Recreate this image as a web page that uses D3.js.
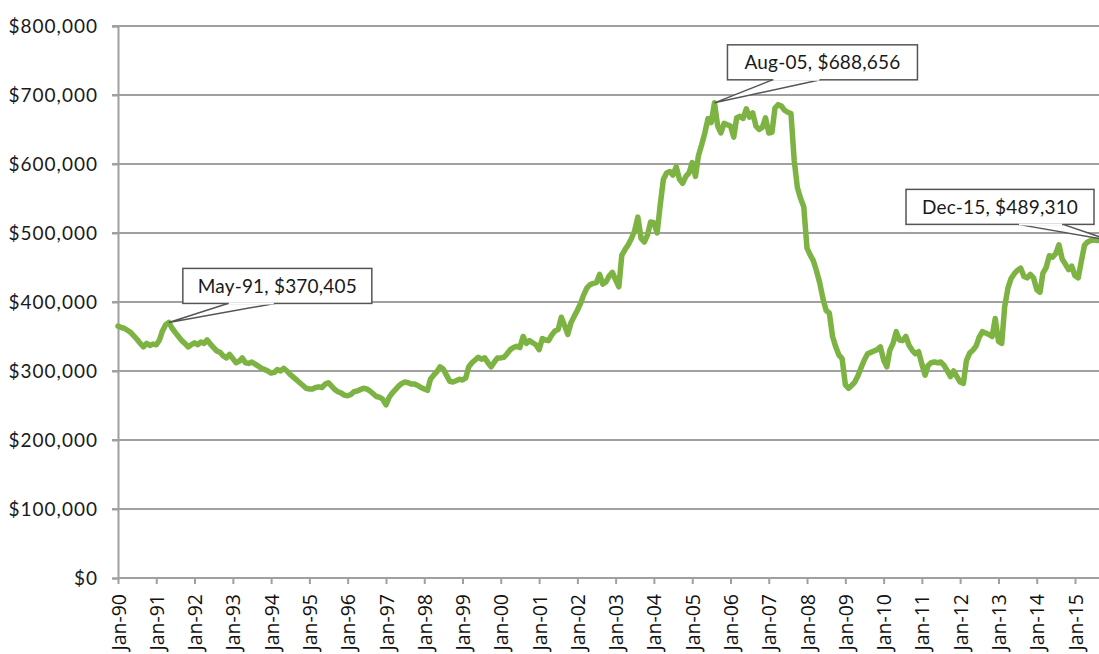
<!DOCTYPE html>
<html>
<head>
<meta charset="utf-8">
<script src="https://cdn.jsdelivr.net/npm/d3@7"></script>
<style>
  body { margin: 0; background: #fff; overflow: hidden; }
  svg { display: block; }
</style>
</head>
<body>
<svg id="chart"></svg>
<script>
// monthly median price in $ thousands, Jan-90 .. Dec-15 (one row per year)
const startYear = 1990;
const priceK = [
  365, 363, 362, 359, 356, 351, 346, 340, 335, 340, 337, 339,
  338, 345, 358, 367, 370.405, 362, 356, 350, 344, 340, 335, 338,
  341, 338, 342, 340, 345, 339, 334, 329, 327, 322, 319, 324,
  318, 312, 314, 319, 312, 311, 313, 310, 307, 304, 302, 300,
  297, 298, 302, 300, 304, 300, 295, 291, 287, 283, 279, 275,
  274, 274, 276, 277, 276, 281, 283, 278, 273, 270, 268, 265,
  264, 266, 270, 271, 273, 275, 274, 271, 267, 263, 262, 259,
  251, 262, 268, 273, 278, 282, 284, 283, 281, 281, 279, 276,
  274, 272, 288, 294, 299, 306, 303, 294, 285, 284, 286, 288,
  287, 290, 306, 312, 316, 320, 317, 319, 312, 306, 313, 319,
  319, 320, 325, 331, 334, 336, 334, 350, 340, 344, 341, 338,
  331, 347, 345, 344, 352, 358, 360, 378, 366, 353, 370, 379,
  388, 398, 410, 420, 425, 427, 428, 440, 426, 429, 438, 443,
  432, 422, 468, 476, 483, 492, 503, 523, 492, 487, 497, 516,
  515, 500, 540, 578, 587, 589, 584, 596, 578, 572, 582, 587,
  602, 582, 612, 628, 645, 666, 660, 688.656, 655, 645, 659, 657,
  655, 639, 667, 669, 666, 680, 668, 674, 655, 650, 653, 667,
  645, 646, 681, 686, 684, 678, 675, 673, 605, 566, 550, 538,
  478, 468, 460, 445, 428, 405, 388, 384, 350, 335, 323, 318,
  280, 275, 279, 284, 293, 305, 316, 325, 327, 329, 331, 335,
  316, 306, 330, 340, 357, 345, 344, 350, 337, 330, 325, 328,
  310, 294, 308, 312, 313, 312, 313, 308, 300, 292, 300, 292,
  284, 282, 315, 326, 330, 336, 349, 357, 355, 353, 350, 376,
  343, 340, 393, 420, 434, 441, 446, 449, 437, 435, 440, 435,
  418, 414, 442, 450, 467, 465, 470, 483, 462, 455, 447, 452,
  438, 435, 458, 482, 487, 489, 490, 489, 490, 489, 490, 489.31
];
const yTicks = [0, 100000, 200000, 300000, 400000, 500000, 600000, 700000, 800000];
const tickYears = d3.range(1990, 2016);
// months (index into priceK) that carry a callout
const calloutMonths = [16, 187, 311];

const width = 1099, height = 654;
const data = priceK.map((v, i) => ({ date: new Date(startYear, i, 1), value: v * 1000 }));

const svg = d3.select("#chart").attr("width", width).attr("height", height);

const x = d3.scaleTime()
  .domain([new Date(1990, 0, 1), new Date(2015, 0, 1)])
  .range([118, 1075]);
const y = d3.scaleLinear().domain([0, 800000]).range([578, 26]);
const xEnd = x(new Date(2015, 11, 1));

// gridlines
svg.append("g")
  .selectAll("line")
  .data(yTicks.filter(d => d > 0))
  .join("line")
  .attr("x1", 112).attr("x2", xEnd)
  .attr("y1", d => y(d)).attr("y2", d => y(d))
  .attr("stroke", "#a0a0a0").attr("stroke-width", 2);

// y axis
const yAxis = svg.append("g")
  .attr("transform", "translate(118,0)")
  .call(d3.axisLeft(y).tickValues(yTicks).tickSize(6).tickPadding(14)
    .tickFormat(d3.format("$,.0f")));
yAxis.select(".domain").attr("stroke", "#a0a0a0").attr("stroke-width", 2);
yAxis.selectAll(".tick line").attr("stroke", "#a0a0a0").attr("stroke-width", 2);
yAxis.selectAll("text")
  .attr("font-family", "Lato, 'Open Sans', sans-serif")
  .attr("font-size", 19).attr("letter-spacing", 1).attr("fill", "#1a1a1a");

// x axis
const xAxis = svg.append("g")
  .attr("transform", "translate(0,578)")
  .call(d3.axisBottom(x)
    .tickValues(tickYears.map(yr => new Date(yr, 0, 1)))
    .tickSize(6).tickSizeOuter(0)
    .tickFormat(d3.timeFormat("%b-%y")));
xAxis.select(".domain").attr("stroke", "#a0a0a0").attr("stroke-width", 2)
  .attr("d", `M118,0H${xEnd}`);
xAxis.selectAll(".tick line").attr("stroke", "#a0a0a0").attr("stroke-width", 2);
xAxis.selectAll("text")
  .attr("font-family", "'Open Sans', 'DejaVu Sans', sans-serif")
  .attr("font-size", 19.5).attr("fill", "#111")
  .attr("text-anchor", "end")
  .attr("transform", "rotate(-90)")
  .attr("x", -16).attr("y", 0).attr("dy", "0.36em");

// price line
const line = d3.line().x(d => x(d.date)).y(d => y(d.value)).curve(d3.curveLinear);
svg.append("path")
  .datum(data)
  .attr("d", line)
  .attr("fill", "none")
  .attr("stroke", "#7db342")
  .attr("stroke-width", 5.5)
  .attr("stroke-linejoin", "round")
  .attr("stroke-linecap", "round");

// callouts: box position relative to the data point, leader base on the box bottom
const boxLayout = [
  { dx: 14, dy: -54, w: 189, h: 35, l1: 45, l2: 92 },
  { dx: 13, dy: -58, w: 190, h: 35, l1: 45, l2: 93 },
  { dx: -204, dy: -51, w: 188, h: 35, l1: 112, l2: 157 }
];
const fmtDate = d3.timeFormat("%b-%y");
const fmtVal = d3.format("$,.0f");

calloutMonths.forEach((m, k) => {
  const d = data[m];
  const px = x(d.date), py = y(d.value);
  const b = boxLayout[k];
  const bx = px + b.dx, by = py + b.dy;
  const g = svg.append("g");
  g.append("path")
    .attr("d", `M${bx + b.l1},${by + b.h}L${px},${py}L${bx + b.l2},${by + b.h}`)
    .attr("fill", "#fff")
    .attr("stroke", "#555").attr("stroke-width", 1.5);
  g.append("rect")
    .attr("x", bx).attr("y", by).attr("width", b.w).attr("height", b.h)
    .attr("fill", "#fff").attr("stroke", "#555").attr("stroke-width", 1.5);
  g.append("path")
    .attr("d", `M${bx + b.l1 + 1},${by + b.h}H${bx + b.l2 - 1}`)
    .attr("stroke", "#fff").attr("stroke-width", 2);
  g.append("text")
    .attr("x", bx + b.w / 2).attr("y", by + b.h / 2).attr("dy", "0.36em")
    .attr("text-anchor", "middle")
    .attr("font-family", "Lato, 'Open Sans', sans-serif")
    .attr("font-size", 19).attr("letter-spacing", 0.2).attr("fill", "#1a1a1a")
    .text(`${fmtDate(d.date)}, ${fmtVal(d.value)}`);
});
</script>
</body>
</html>
